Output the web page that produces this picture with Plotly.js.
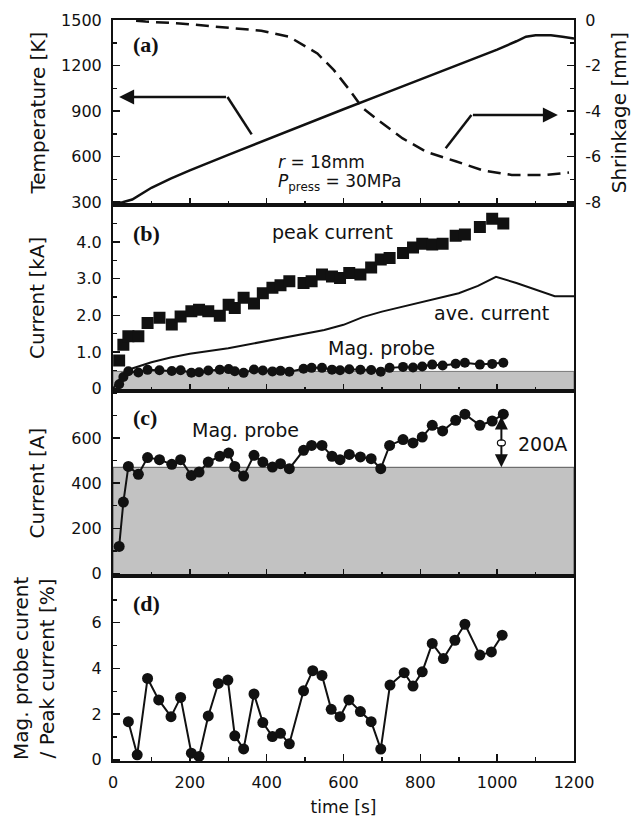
<!DOCTYPE html>
<html><head><meta charset="utf-8">
<script src="https://cdn.plot.ly/plotly-3.0.1.min.js"></script>
<style>html,body{margin:0;padding:0;background:#fff;}#chart{width:633px;height:817px;}</style>
</head><body><div id="chart"></div>
<script>
// ---------- panel (a) ----------
const tempTime = [0, 25, 50, 100, 150, 200, 300, 400, 500, 600, 700, 800, 900, 1000, 1050, 1075, 1100, 1140, 1170, 1200];
const temperature = [295, 300, 318, 395, 455, 510, 612, 713, 815, 912, 1010, 1108, 1205, 1305, 1360, 1390, 1400, 1400, 1390, 1378];
const shrinkTime = [60, 85, 174, 279, 386, 459, 532, 575, 617, 649, 690, 754, 817, 892, 962, 1038, 1124, 1187];
const shrinkage = [-0.03, -0.07, -0.15, -0.3, -0.47, -0.74, -1.47, -2.2, -3.1, -3.85, -4.4, -5.2, -5.8, -6.2, -6.6, -6.8, -6.8, -6.7];
const tempTicks = [300, 600, 900, 1200, 1500];
const shrinkTicks = [-8, -6, -4, -2, 0];
const shrinkTickText = ['-8', '-6', '-4', '-2', '0'];

// ---------- panels (b), (c) ----------
const measTime = [16, 27, 40, 66, 90, 121, 153, 176, 204, 224, 248, 278, 301, 317, 340, 367, 390, 415, 436, 459,
                  496, 517, 544, 570, 591, 615, 644, 672, 697, 720, 755, 781, 805, 831, 858, 892, 916, 955, 987, 1016];
const peakCurrent = [0.77, 1.2, 1.43, 1.43, 1.79, 1.93, 1.75, 1.97, 2.11, 2.15, 2.11, 1.99, 2.29, 2.2, 2.48, 2.32, 2.6, 2.75, 2.82, 2.93,
                     2.88, 2.93, 3.11, 3.06, 3.02, 3.15, 3.11, 3.3, 3.52, 3.56, 3.7, 3.85, 3.95, 3.93, 3.95, 4.17, 4.2, 4.41, 4.63, 4.5];
const magProbe = [120, 316, 474, 439, 513, 504, 483, 504, 434, 449, 493, 519, 533, 474, 431, 523, 493, 471, 486, 464,
                  545, 567, 567, 519, 504, 527, 516, 508, 464, 567, 593, 578, 604, 656, 631, 678, 705, 656, 675, 705];
const aveTime = [0, 20, 50, 100, 150, 200, 300, 400, 500, 550, 600, 650, 700, 800, 900, 950, 997, 1050, 1100, 1150, 1200];
const aveCurrent = [0, 0.3, 0.55, 0.72, 0.85, 0.95, 1.1, 1.3, 1.5, 1.6, 1.74, 1.95, 2.1, 2.35, 2.6, 2.8, 3.05, 2.88, 2.7, 2.52, 2.52];
const baseline = 470; // A, level of the grey band

// ---------- panel (d) ----------
const ratioTime = [40, 63, 90, 119, 151, 176, 204, 224, 248, 274, 299, 317, 340, 367, 390, 415, 436, 459,
                   496, 520, 544, 568, 591, 614, 644, 672, 697, 721, 758, 781, 805, 831, 860, 890, 916, 955, 985, 1013];
const ratio = [1.67, 0.22, 3.56, 2.62, 1.89, 2.73, 0.29, 0.15, 1.92, 3.34, 3.49, 1.05, 0.48, 2.88, 1.63, 1.02, 1.16, 0.7,
               3.02, 3.9, 3.69, 2.21, 1.89, 2.62, 2.11, 1.67, 0.47, 3.27, 3.81, 3.23, 3.85, 5.09, 4.43, 5.23, 5.93, 4.58, 4.72, 5.45];

const xTicks = [0, 200, 400, 600, 800, 1000, 1200];

const INK = '#111';
const FONT = 'DejaVu Sans, Arial, sans-serif';
const SERIF = 'Liberation Serif, Times New Roman, serif';

const traces = [
  {x: tempTime, y: temperature, xaxis: 'x', yaxis: 'y', mode: 'lines', line: {color: INK, width: 2.5}},
  {x: shrinkTime, y: shrinkage, xaxis: 'x', yaxis: 'y2', mode: 'lines', line: {color: INK, width: 2.5, dash: '13px,7px'}},
  {x: aveTime, y: aveCurrent, xaxis: 'x2', yaxis: 'y3', mode: 'lines', line: {color: INK, width: 2}},
  {x: measTime, y: magProbe.map(v => v / 1000), xaxis: 'x2', yaxis: 'y3', mode: 'lines+markers',
   line: {color: INK, width: 2}, marker: {symbol: 'circle', size: 10, color: INK}},
  {x: measTime, y: peakCurrent, xaxis: 'x2', yaxis: 'y3', mode: 'markers',
   marker: {symbol: 'square', size: 12, color: INK}},
  {x: measTime, y: magProbe, xaxis: 'x3', yaxis: 'y4', mode: 'lines+markers',
   line: {color: INK, width: 2}, marker: {symbol: 'circle', size: 11, color: INK}},
  {x: ratioTime, y: ratio, xaxis: 'x4', yaxis: 'y5', mode: 'lines+markers',
   line: {color: INK, width: 2}, marker: {symbol: 'circle', size: 11, color: INK}}
];

const axBase = {
  showline: true, linewidth: 2, linecolor: INK, mirror: true,
  ticks: 'inside', ticklen: 7, tickwidth: 1.5, tickcolor: INK,
  showgrid: false, zeroline: false,
  tickfont: {family: FONT, size: 16, color: INK},
  ticklabelstandoff: 6
};
function xAxis(anchor, showLabels) {
  return Object.assign({}, axBase, {
    anchor: anchor, range: [0, 1200],
    tickmode: 'array', tickvals: xTicks, showticklabels: showLabels,
    minor: {ticks: 'inside', ticklen: 4, tickwidth: 1.5, tickcolor: INK, dtick: 100, tick0: 0}
  });
}
function yTitle(text, standoff) {
  return {text: text, font: {family: FONT, size: 20, color: INK}, standoff: standoff};
}

const layout = {
  width: 633, height: 817,
  margin: {l: 113, r: 59, t: 20, b: 56},
  paper_bgcolor: '#fff', plot_bgcolor: 'rgba(0,0,0,0)',
  showlegend: false,
  font: {family: FONT, color: INK},
  xaxis: xAxis('y', false),
  xaxis2: xAxis('y3', false),
  xaxis3: xAxis('y4', false),
  xaxis4: Object.assign(xAxis('y5', true), {title: {text: 'time [s]', font: {family: FONT, size: 17, color: INK}, standoff: 10}}),
  yaxis: Object.assign({}, axBase, {domain: [0.75, 1], anchor: 'x', range: [280, 1500],
    tickmode: 'array', tickvals: tempTicks,
    minor: {ticks: 'inside', ticklen: 4, tickwidth: 1.5, tickcolor: INK, dtick: 150, tick0: 300},
    title: yTitle('Temperature [K]', 10)}),
  yaxis2: Object.assign({}, axBase, {overlaying: 'y', side: 'right', anchor: 'x', range: [-8.133, 0], mirror: false,
    tickmode: 'array', tickvals: shrinkTicks, ticktext: shrinkTickText,
    minor: {ticks: 'inside', ticklen: 4, tickwidth: 1.5, tickcolor: INK, dtick: 1, tick0: 0},
    title: yTitle('Shrinkage [mm]', 12)}),
  yaxis3: Object.assign({}, axBase, {domain: [0.5, 0.75], anchor: 'x2', range: [-0.05, 5.0],
    tickmode: 'array', tickvals: [0, 1, 2, 3, 4], ticktext: ['0', '1.0', '2.0', '3.0', '4.0'],
    minor: {ticks: 'inside', ticklen: 4, tickwidth: 1.5, tickcolor: INK, dtick: 0.5, tick0: 0},
    title: yTitle('Current [kA]', 26)}),
  yaxis4: Object.assign({}, axBase, {domain: [0.25, 0.5], anchor: 'x3', range: [-10, 810],
    tickmode: 'array', tickvals: [0, 200, 400, 600],
    minor: {ticks: 'inside', ticklen: 4, tickwidth: 1.5, tickcolor: INK, dtick: 100, tick0: 0},
    title: yTitle('Current [A]', 21)}),
  yaxis5: Object.assign({}, axBase, {domain: [0, 0.25], anchor: 'x4', range: [-0.05, 8.05],
    tickmode: 'array', tickvals: [0, 2, 4, 6],
    minor: {ticks: 'inside', ticklen: 4, tickwidth: 1.5, tickcolor: INK, dtick: 1, tick0: 0},
    title: yTitle('Mag. probe curent<br>/ Peak current [%]', 32)}),
  shapes: [
    {type: 'rect', xref: 'x2 domain', yref: 'y3', x0: 0, x1: 1, y0: -0.05, y1: baseline / 1000,
     fillcolor: '#c2c2c2', line: {width: 1, color: '#777'}, layer: 'below'},
    {type: 'rect', xref: 'x3 domain', yref: 'y4', x0: 0, x1: 1, y0: -10, y1: baseline,
     fillcolor: '#c2c2c2', line: {width: 1, color: '#555'}, layer: 'below'},
    {type: 'path', xref: 'x', yref: 'y', path: 'M 361 747 L 298 993', line: {color: INK, width: 2.5}},
    {type: 'path', xref: 'x', yref: 'y', path: 'M 866 655 L 933 875', line: {color: INK, width: 2.5}},
    {type: 'circle', xref: 'x3', yref: 'y4', xsizemode: 'pixel', ysizemode: 'pixel', xanchor: 1011, yanchor: 578,
     x0: -4, x1: 4, y0: -3, y1: 3, fillcolor: '#fff', line: {color: INK, width: 1.2}}
  ],
  annotations: [
    {xref: 'x', yref: 'y domain', x: 47, y: 0.87, xanchor: 'left', yanchor: 'middle', showarrow: false,
     text: '<b>(a)</b>', font: {family: SERIF, size: 22, color: INK}},
    {xref: 'x2', yref: 'y3 domain', x: 47, y: 0.85, xanchor: 'left', yanchor: 'middle', showarrow: false,
     text: '<b>(b)</b>', font: {family: SERIF, size: 22, color: INK}},
    {xref: 'x3', yref: 'y4 domain', x: 47, y: 0.853, xanchor: 'left', yanchor: 'middle', showarrow: false,
     text: '<b>(c)</b>', font: {family: SERIF, size: 22, color: INK}},
    {xref: 'x4', yref: 'y5 domain', x: 47, y: 0.85, xanchor: 'left', yanchor: 'middle', showarrow: false,
     text: '<b>(d)</b>', font: {family: SERIF, size: 22, color: INK}},
    {xref: 'x', yref: 'y', x: 16, y: 993, ax: 298, ay: 993, axref: 'x', ayref: 'y', text: '', showarrow: true,
     arrowhead: 2, arrowsize: 1.2, arrowwidth: 2.5, arrowcolor: INK},
    {xref: 'x', yref: 'y', x: 1158, y: 875, ax: 933, ay: 875, axref: 'x', ayref: 'y', text: '', showarrow: true,
     arrowhead: 2, arrowsize: 1.2, arrowwidth: 2.5, arrowcolor: INK},
    {xref: 'x', yref: 'y', x: 425, y: 566, xanchor: 'left', yanchor: 'middle', showarrow: false, text: '<i>r</i> = 18mm',
     font: {family: FONT, size: 17, color: INK}},
    {xref: 'x', yref: 'y', x: 425, y: 428, xanchor: 'left', yanchor: 'middle', showarrow: false,
     text: '<i>P</i><sub>press</sub> = 30MPa', font: {family: FONT, size: 17, color: INK}},
    {xref: 'x2', yref: 'y3', x: 571, y: 4.26, showarrow: false, text: 'peak current', font: {family: FONT, size: 19, color: INK}},
    {xref: 'x2', yref: 'y3', x: 985, y: 2.06, showarrow: false, text: 'ave. current', font: {family: FONT, size: 19, color: INK}},
    {xref: 'x2', yref: 'y3', x: 698, y: 1.11, showarrow: false, text: 'Mag. probe', font: {family: FONT, size: 19, color: INK}},
    {xref: 'x3', yref: 'y4', x: 346, y: 637, showarrow: false, text: 'Mag. probe', font: {family: FONT, size: 19, color: INK}},
    {xref: 'x3', yref: 'y4', x: 1048, y: 572, xanchor: 'left', showarrow: false, text: '200A', font: {family: FONT, size: 19, color: INK}},
    {xref: 'x3', yref: 'y4', x: 1011, y: 695, ax: 1011, ay: 582, axref: 'x3', ayref: 'y4', text: '', showarrow: true,
     arrowhead: 2, arrowsize: 1.3, arrowwidth: 2, arrowcolor: INK},
    {xref: 'x3', yref: 'y4', x: 1011, y: baseline, ax: 1011, ay: 574, axref: 'x3', ayref: 'y4', text: '', showarrow: true,
     arrowhead: 2, arrowsize: 1.3, arrowwidth: 2, arrowcolor: INK}
  ]
};

Plotly.newPlot('chart', traces, layout, {staticPlot: true, displayModeBar: false});
</script>
</body></html>
